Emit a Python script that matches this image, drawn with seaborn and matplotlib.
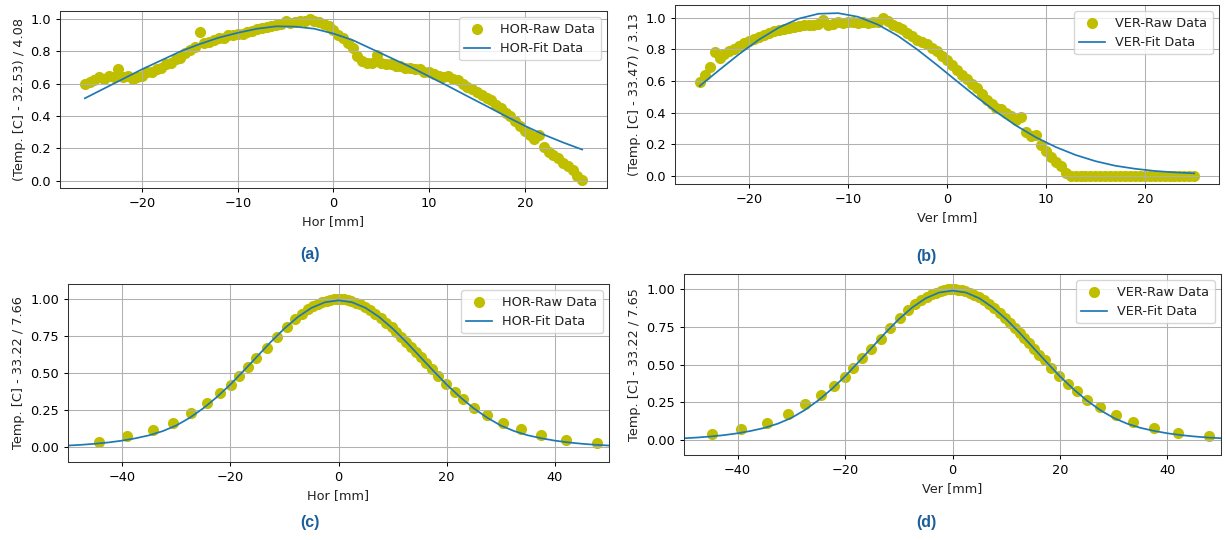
import numpy as np
import matplotlib
matplotlib.use("Agg")
import matplotlib.pyplot as plt
import seaborn as sns

# ---- (a) horizontal profile, raw + fit ----
hor_a_x = np.arange(-26, 26.5, 0.5)
hor_a_y = [0.60, 0.61, 0.62, 0.64, 0.63, 0.65, 0.64, 0.69, 0.64, 0.65,
           0.63, 0.64, 0.65, 0.67, 0.67, 0.69, 0.70, 0.72, 0.73, 0.75,
           0.76, 0.79, 0.81, 0.83, 0.92, 0.85, 0.86, 0.87, 0.88, 0.885,
           0.90, 0.90, 0.905, 0.91, 0.92, 0.925, 0.94, 0.945, 0.95, 0.96,
           0.965, 0.97, 0.99, 0.975, 0.98, 0.985, 0.99, 1.0, 0.99, 0.98,
           0.97, 0.955, 0.93, 0.90, 0.88, 0.85, 0.82, 0.77, 0.74, 0.73,
           0.73, 0.78, 0.73, 0.72, 0.72, 0.71, 0.71, 0.70, 0.70, 0.69,
           0.69, 0.67, 0.67, 0.66, 0.65, 0.64, 0.645, 0.63, 0.62, 0.60,
           0.58, 0.565, 0.55, 0.53, 0.51, 0.50, 0.47, 0.45, 0.42, 0.40,
           0.37, 0.34, 0.31, 0.28, 0.26, 0.28, 0.21, 0.18, 0.16, 0.14,
           0.11, 0.09, 0.065, 0.03, 0.005]
hor_a_fit_x = np.arange(-26, 27, 2)
hor_a_fit_y = [0.51, 0.57, 0.63, 0.69, 0.745, 0.80, 0.845, 0.885, 0.915, 0.94,
               0.955, 0.953, 0.94, 0.91, 0.87, 0.815, 0.76, 0.705, 0.645, 0.585,
               0.523, 0.462, 0.40, 0.34, 0.285, 0.237, 0.193]

# ---- (b) vertical profile, raw + fit ----
ver_b_x = np.arange(-25, 25.5, 0.5)
ver_b_y = [0.59, 0.64, 0.69, 0.78, 0.745, 0.77, 0.79, 0.80, 0.82, 0.84,
           0.85, 0.865, 0.88, 0.89, 0.905, 0.915, 0.92, 0.93, 0.935, 0.94,
           0.945, 0.95, 0.95, 0.955, 0.96, 0.985, 0.955, 0.96, 0.97, 0.965,
           0.975, 0.97, 0.965, 0.97, 0.965, 0.97, 0.975, 0.995, 0.98, 0.955,
           0.94, 0.925, 0.905, 0.885, 0.86, 0.845, 0.83, 0.81, 0.79, 0.76,
           0.735, 0.70, 0.67, 0.64, 0.61, 0.58, 0.556, 0.52, 0.48, 0.455,
           0.43, 0.42, 0.40, 0.38, 0.355, 0.37, 0.28, 0.25, 0.26, 0.195,
           0.16, 0.12, 0.09, 0.065, 0.02, 0.0, 0.0, 0.0, 0.0, 0.0,
           0.0, 0.0, 0.0, 0.0, 0.0, 0.0, 0.0, 0.0, 0.0, 0.0,
           0.0, 0.0, 0.0, 0.0, 0.0, 0.0, 0.0, 0.0, 0.0, 0.0,
           0.0]
ver_b_fit_x = np.arange(-25, 26, 2)
ver_b_fit_y = [0.568, 0.670, 0.770, 0.861, 0.937, 0.993, 1.024, 1.028, 1.005, 0.956,
               0.886, 0.798, 0.700, 0.598, 0.498, 0.403, 0.317, 0.243, 0.182, 0.132,
               0.093, 0.064, 0.045, 0.031, 0.022, 0.016]

# ---- (c) horizontal, normalised ----
hor_c_x = [-44.3, -39.1, -34.3, -30.5, -27.2, -24.3, -21.9, -19.9, -18.4, -16.8,
           -15.2, -13.3, -11.4, -9.6, -8.0, -6.8, -5.7, -4.7, -3.8, -3.0,
           -2.2, -1.5, -0.8, -0.2, 0.4, 1.0, 1.7, 2.4, 3.2, 4.0,
           4.9, 5.8, 6.8, 7.8, 8.8, 9.8, 10.7, 11.6, 12.5, 13.4,
           14.3, 15.2, 16.2, 17.2, 18.4, 19.8, 21.5, 23.1, 25.1, 27.5,
           30.4, 33.7, 37.5, 42.1, 47.7]
hor_c_y = [0.038, 0.076, 0.115, 0.164, 0.229, 0.300, 0.362, 0.420, 0.480, 0.540,
           0.600, 0.667, 0.746, 0.810, 0.863, 0.900, 0.930, 0.950, 0.965, 0.977,
           0.986, 0.993, 0.998, 1.000, 1.000, 0.997, 0.992, 0.985, 0.975, 0.962,
           0.945, 0.925, 0.900, 0.872, 0.840, 0.807, 0.776, 0.743, 0.709, 0.675,
           0.640, 0.605, 0.566, 0.527, 0.480, 0.425, 0.375, 0.326, 0.267, 0.218,
           0.166, 0.121, 0.079, 0.049, 0.027]
fit_cd_x = np.arange(-50, 51, 2.5)
hor_c_fit_y = [0.011, 0.016, 0.023, 0.032, 0.044, 0.060, 0.080, 0.108, 0.146, 0.198,
               0.262, 0.337, 0.422, 0.516, 0.613, 0.710, 0.800, 0.878, 0.939, 0.977,
               0.990,
               0.977, 0.939, 0.878, 0.800, 0.710, 0.613, 0.516, 0.422, 0.337, 0.262,
               0.198, 0.146, 0.108, 0.080, 0.060, 0.044, 0.032, 0.023, 0.016, 0.011]

# ---- (d) vertical, normalised ----
ver_d_x = [-44.8, -39.3, -34.6, -30.7, -27.4, -24.5, -22.1, -20.1, -18.6, -16.9,
           -15.2, -13.4, -11.7, -9.8, -8.2, -7.0, -5.8, -4.7, -3.8, -3.0,
           -2.2, -1.5, -0.8, -0.2, 0.4, 1.0, 1.7, 2.4, 3.2, 4.0,
           4.9, 5.8, 6.8, 7.8, 8.8, 9.8, 10.7, 11.6, 12.5, 13.4,
           14.3, 15.2, 16.2, 17.2, 18.4, 19.8, 21.5, 23.1, 25.1, 27.5,
           30.4, 33.7, 37.5, 42.0, 47.7]
ver_d_y = [0.036, 0.074, 0.114, 0.170, 0.235, 0.296, 0.359, 0.420, 0.478, 0.540,
           0.600, 0.666, 0.742, 0.807, 0.863, 0.904, 0.930, 0.950, 0.965, 0.977,
           0.986, 0.993, 0.998, 1.000, 1.000, 0.997, 0.992, 0.985, 0.975, 0.962,
           0.945, 0.925, 0.900, 0.872, 0.840, 0.807, 0.776, 0.743, 0.709, 0.675,
           0.640, 0.605, 0.566, 0.527, 0.480, 0.423, 0.373, 0.325, 0.265, 0.217,
           0.168, 0.119, 0.078, 0.045, 0.025]
ver_d_fit_y = [0.011, 0.016, 0.023, 0.032, 0.044, 0.060, 0.080, 0.108, 0.146, 0.198,
               0.262, 0.337, 0.422, 0.516, 0.613, 0.710, 0.800, 0.878, 0.939, 0.977,
               0.990,
               0.977, 0.939, 0.878, 0.800, 0.710, 0.613, 0.516, 0.422, 0.337, 0.262,
               0.198, 0.146, 0.108, 0.080, 0.060, 0.044, 0.032, 0.023, 0.016, 0.011]

plt.rcParams.update({
    "font.family": "DejaVu Sans",
    "font.size": 9.3,
    "axes.linewidth": 0.75,
    "xtick.major.size": 3.2,
    "ytick.major.size": 3.2,
    "xtick.major.width": 0.75,
    "ytick.major.width": 0.75,
    "xtick.major.pad": 3.2,
    "ytick.major.pad": 3.2,
    "axes.edgecolor": "#333333",
    "text.color": "#222222",
    "axes.labelcolor": "#222222",
})

RAW_COLOR = "y"
FIT_COLOR = "#1f77b4"
CAP_COLOR = "#1b5e9b"
W, H = 1226, 540

fig = plt.figure(figsize=(W / 100, H / 100), dpi=100)


def add_ax(left, top, right, bottom):
    return fig.add_axes([left / W, 1 - bottom / H, (right - left) / W, (bottom - top) / H])


panels = [
    # box (px), raw x/y, fit x/y, prefix, xlabel, ylabel, caption, caption pos
    ((60, 11, 607, 188), hor_a_x, hor_a_y, hor_a_fit_x, hor_a_fit_y, "HOR", "Hor [mm]",
     "(Temp. [C] - 32.53) / 4.08", "(a)", (310, 255)),
    ((675, 5, 1219, 184), ver_b_x, ver_b_y, ver_b_fit_x, ver_b_fit_y, "VER", "Ver [mm]",
     "(Temp. [C] - 33.47) / 3.13", "(b)", (926, 256)),
    ((68, 284, 609, 462), hor_c_x, hor_c_y, fit_cd_x, hor_c_fit_y, "HOR", "Hor [mm]",
     "Temp. [C] - 33.22 / 7.66", "(c)", (310, 522)),
    ((684, 274, 1221, 455), ver_d_x, ver_d_y, fit_cd_x, ver_d_fit_y, "VER", "Ver [mm]",
     "Temp. [C] - 33.22 / 7.65", "(d)", (926, 523)),
]

for i, (box, rx, ry, fx, fy, pre, xl, yl, cap, cpos) in enumerate(panels):
    ax = add_ax(*box)
    sns.scatterplot(x=rx, y=ry, color=RAW_COLOR, s=64, linewidth=0,
                    label=f"{pre}-Raw Data", ax=ax)
    sns.lineplot(x=fx, y=fy, color=FIT_COLOR, linewidth=1.25,
                 label=f"{pre}-Fit Data", ax=ax)
    ax.grid(True, color="#b0b0b0", linewidth=0.75)
    ax.set_xlabel(xl, labelpad=3.5)
    ax.set_ylabel(yl, labelpad=3.5)
    if i < 2:
        ax.set_xticks([-20, -10, 0, 10, 20])
        ax.set_yticks([0.0, 0.2, 0.4, 0.6, 0.8, 1.0])
        ax.yaxis.set_major_formatter(matplotlib.ticker.FormatStrFormatter("%.1f"))
    else:
        ax.set_xlim(-50, 50)
        ax.set_ylim(-0.1, 1.1)
        ax.set_xticks([-40, -20, 0, 20, 40])
        ax.set_yticks([0.0, 0.25, 0.5, 0.75, 1.0])
        ax.yaxis.set_major_formatter(matplotlib.ticker.FormatStrFormatter("%.2f"))
    ax.legend(loc="upper right", fontsize=9.3, framealpha=0.8)
    fig.text(cpos[0] / W, 1 - cpos[1] / H, cap, ha="center", va="center",
             family="Liberation Sans", fontweight="bold", fontsize=11.5, color=CAP_COLOR)

fig.savefig("out.png", dpi=100)
